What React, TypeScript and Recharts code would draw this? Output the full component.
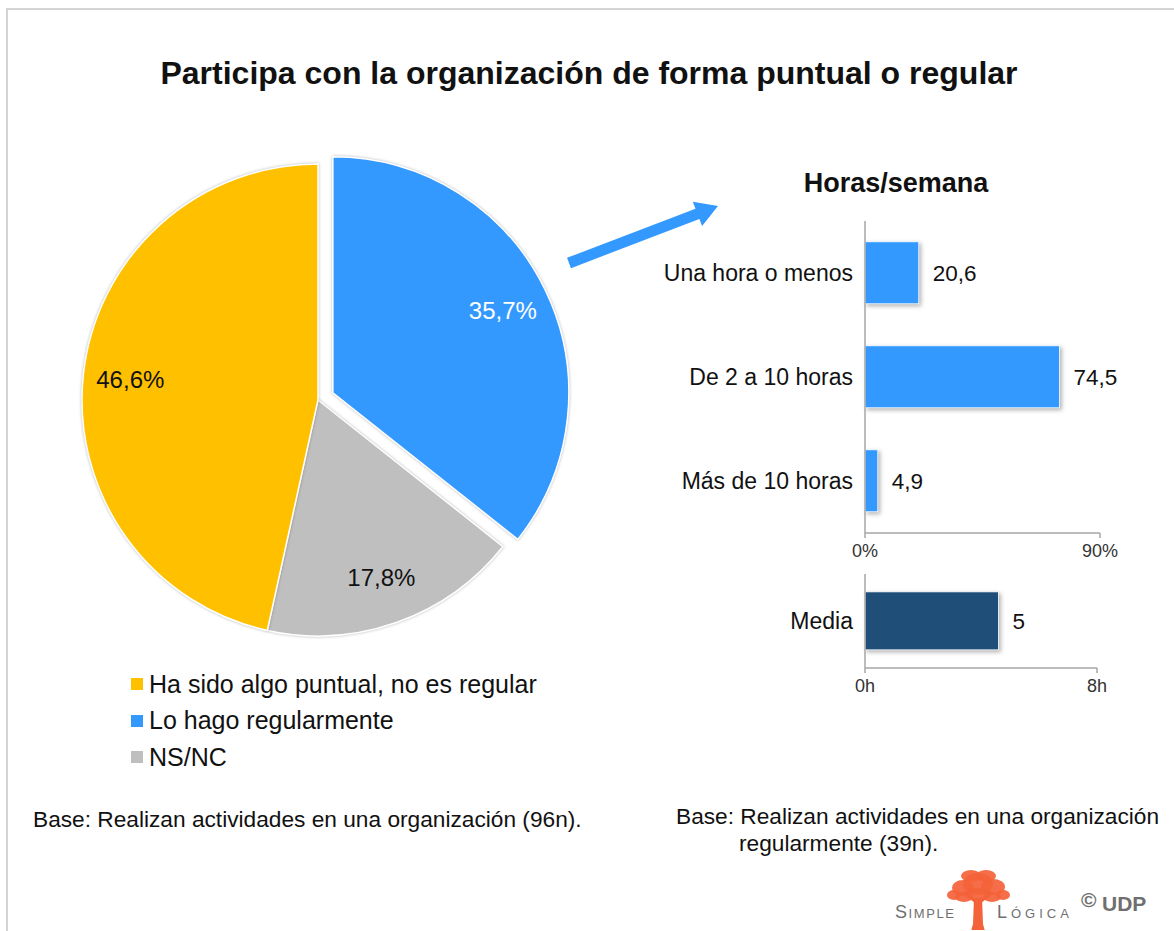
import React from 'react';
import { PieChart, Pie, Cell, BarChart, Bar, XAxis, YAxis, LabelList } from 'recharts';

// pie: order drawn clockwise from 12 o'clock
const pieNames = ['Lo hago regularmente', 'NS/NC', 'Ha sido algo puntual, no es regular'];
const pieValues = [35.7, 17.8, 46.6];
const pieColors = ['#3399ff', '#bfbfbf', '#ffc000'];
const legendOrder = [2, 0, 1];

// horas / semana
const hourCategories = ['Una hora o menos', 'De 2 a 10 horas', 'Más de 10 horas'];
const hourValues = [20.6, 74.5, 4.9];
const hourTicks = [0, 90];

// media (label shown rounded)
const meanCategories = ['Media'];
const meanValues = [4.6];
const meanTicks = [0, 8];

const FONT = "'Liberation Sans', Arial, sans-serif";
const AXIS = '#a6a6a6';
const RAD = Math.PI / 180;

const fmt1 = (v: any) => Number(v).toFixed(1).replace('.', ',');
const fmt0 = (v: any) => String(Math.round(Number(v)));

const pieData = pieNames.map((name, i) => ({ name, value: pieValues[i] }));
const hourData = hourCategories.map((name, i) => ({ name, value: hourValues[i] }));
const meanData = meanCategories.map((name, i) => ({ name, value: meanValues[i] }));

// exploded slice = first one (blue)
const pieTotal = pieValues.reduce((a, b) => a + b, 0);
const explodeMid = 90 - (360 * pieValues[0]) / pieTotal / 2;
const EXPLODE = 16.5;
const PIE_CX = 300;
const PIE_CY = 280;
const PIE_R = 236;

const makeLabel = (show: (i: number) => boolean) => (p: any) => {
  if (!show(p.index)) return null;
  const r = p.outerRadius * 0.8;
  const x = p.cx + r * Math.cos(-p.midAngle * RAD);
  const y = p.cy + r * Math.sin(-p.midAngle * RAD);
  return (
    <text x={x} y={y} textAnchor="middle" dominantBaseline="central" fontSize={24}
      fill={p.index === 0 ? '#fff' : '#111'} fontFamily={FONT}>
      {fmt1(p.value)}%
    </text>
  );
};

const ShadowBar = (props: any) => {
  const { x, y, width, height, fill } = props;
  if (!width || width <= 0) return null;
  return (
    <rect x={x} y={y} width={width} height={height} fill={fill}
      stroke="#ffffff" strokeWidth={0.8}
      style={{ filter: 'drop-shadow(2px 2px 2px rgba(0,0,0,0.3))' }} />
  );
};

function Arrow() {
  // decorative pointer from the exploded slice to the bar panel
  const tail = [569, 263];
  const tip = [718, 206];
  const dx = tip[0] - tail[0];
  const dy = tip[1] - tail[1];
  const len = Math.hypot(dx, dy);
  const ux = dx / len, uy = dy / len;
  const nx = -uy, ny = ux;
  const w = 5.5, hw = 13, hl = 22;
  const bx = tip[0] - ux * hl, by = tip[1] - uy * hl;
  const pts = [
    [tail[0] + nx * w, tail[1] + ny * w],
    [bx + nx * w, by + ny * w],
    [bx + nx * hw, by + ny * hw],
    tip,
    [bx - nx * hw, by - ny * hw],
    [bx - nx * w, by - ny * w],
    [tail[0] - nx * w, tail[1] - ny * w],
  ].map(p => p.join(',')).join(' ');
  return (
    <svg width={1174} height={931} style={{ position: 'absolute', left: 0, top: 0, pointerEvents: 'none' }}>
      <polygon points={pts} fill="#3399ff" />
    </svg>
  );
}

function Logo() {
  const blobs = [
    [0, 0, 15, 11], [-15, 4, 11, 8], [15, 3, 12, 8], [-24, 11, 7, 5], [25, 11, 7, 5],
    [-7, -8, 10, 6], [8, -8, 10, 6], [0, 10, 13, 6], [-14, 13, 9, 5], [14, 13, 9, 5],
  ];
  const txt = { fill: '#6f6f6f', fontFamily: FONT } as const;
  return (
    <svg width={290} height={70} style={{ position: 'absolute', left: 880, top: 860 }}>
      <g transform="translate(98,24)" fill="#f4623a">
        {blobs.map((b, i) => <ellipse key={i} cx={b[0]} cy={b[1]} rx={b[2]} ry={b[3]} opacity={0.92} />)}
        <path d="M-4,14 L-5,40 L-10,58 L10,58 L5,40 L4,14 Z" />
        <path d="M-2,18 L-14,8 M2,18 L14,8" stroke="#f4623a" strokeWidth={3} />
      </g>
      <text x={15} y={58} fontSize={18} letterSpacing={1.6} style={{ fontVariant: 'small-caps' }} {...txt}>Simple</text>
      <text x={117} y={58} fontSize={18} letterSpacing={4} style={{ fontVariant: 'small-caps' }} {...txt}>Lógica</text>
      <text x={201} y={47} fontSize={21} fontWeight="bold" {...txt}>©</text>
      <text x={222} y={51} fontSize={21} fontWeight="bold" {...txt}>UDP</text>
    </svg>
  );
}

export default function App() {
  const dx = EXPLODE * Math.cos(explodeMid * RAD);
  const dy = -EXPLODE * Math.sin(explodeMid * RAD);
  return (
    <div style={{ position: 'absolute', left: 0, top: 0, width: 1174, height: 931, background: '#fff', fontFamily: FONT, overflow: 'hidden', color: '#111' }}>
      <style>{`.recharts-pie-sector path { filter: drop-shadow(0 0 1.5px rgba(0,0,0,0.28)); }`}</style>
      <div style={{ position: 'absolute', left: 6, top: 8, width: 1300, height: 1000, borderLeft: '2px solid #d4d4d4', borderTop: '2px solid #d4d4d4' }} />

      <div style={{ position: 'absolute', left: 0, width: 1178, top: 53, textAlign: 'center', fontSize: 32, fontWeight: 'bold', lineHeight: '40px' }}>
        Participa con la organización de forma puntual o regular
      </div>

      <div style={{ position: 'absolute', left: 18, top: 120 }}>
        <PieChart width={600} height={560} margin={{ top: 0, right: 0, bottom: 0, left: 0 }}>
          <Pie data={pieData} dataKey="value" nameKey="name" cx={PIE_CX} cy={PIE_CY} outerRadius={PIE_R}
            startAngle={90} endAngle={-270} labelLine={false} label={makeLabel(i => i !== 0)} isAnimationActive={false}>
            {pieData.map((d, i) => (
              <Cell key={d.name} fill={i === 0 ? 'none' : pieColors[i]} stroke={i === 0 ? 'none' : '#fff'} strokeWidth={1.5} />
            ))}
          </Pie>
          <Pie data={pieData} dataKey="value" nameKey="name" cx={PIE_CX + dx} cy={PIE_CY + dy} outerRadius={PIE_R}
            startAngle={90} endAngle={-270} labelLine={false} label={makeLabel(i => i === 0)} isAnimationActive={false}>
            {pieData.map((d, i) => (
              <Cell key={d.name} fill={i === 0 ? pieColors[i] : 'none'} stroke={i === 0 ? '#fff' : 'none'} strokeWidth={1.5} />
            ))}
          </Pie>
        </PieChart>
      </div>

      <div style={{ position: 'absolute', left: 131, top: 666 }}>
        {legendOrder.map(i => (
          <div key={pieNames[i]} style={{ display: 'flex', alignItems: 'center', height: 36.5, fontSize: 25 }}>
            <span style={{ width: 12, height: 12, background: pieColors[i], marginRight: 6, flex: 'none' }} />
            <span>{pieNames[i]}</span>
          </div>
        ))}
      </div>

      <div style={{ position: 'absolute', left: 33, top: 806, fontSize: 22.7, lineHeight: '26px', whiteSpace: 'nowrap' }}>
        Base: Realizan actividades en una organización (96n).
      </div>

      <Arrow />

      <div style={{ position: 'absolute', left: 796, width: 200, top: 167, textAlign: 'center', fontSize: 27, fontWeight: 'bold', lineHeight: '32px' }}>
        Horas/semana
      </div>

      <div style={{ position: 'absolute', left: 640, top: 210 }}>
        <BarChart width={500} height={360} layout="vertical" data={hourData}
          margin={{ top: 11, right: 40, bottom: 0, left: 0 }} barCategoryGap="20%">
          <XAxis type="number" domain={[0, 90]} ticks={hourTicks} interval={0} tickFormatter={v => `${v}%`}
            height={37} axisLine={{ stroke: AXIS, strokeWidth: 1.5 }} tickLine={{ stroke: AXIS, strokeWidth: 1.5 }}
            tickSize={5} tickMargin={6} tick={{ fontSize: 18, fill: '#333' }} />
          <YAxis type="category" dataKey="name" width={225} axisLine={{ stroke: AXIS, strokeWidth: 1.5 }}
            tickLine={false} tickSize={0} tickMargin={12} tick={{ fontSize: 23, fill: '#111' }} />
          <Bar dataKey="value" fill="#3399ff" isAnimationActive={false} shape={ShadowBar}>
            <LabelList dataKey="value" position="right" offset={14} formatter={fmt1} fontSize={22.5} fill="#111" />
          </Bar>
        </BarChart>
      </div>

      <div style={{ position: 'absolute', left: 640, top: 560 }}>
        <BarChart width={500} height={145} layout="vertical" data={meanData}
          margin={{ top: 14, right: 43, bottom: 0, left: 0 }} barCategoryGap="19%">
          <XAxis type="number" domain={[0, 8]} ticks={meanTicks} interval={0} tickFormatter={v => `${v}h`}
            height={37} axisLine={{ stroke: AXIS, strokeWidth: 1.5 }} tickLine={{ stroke: AXIS, strokeWidth: 1.5 }}
            tickSize={5} tickMargin={6} tick={{ fontSize: 18, fill: '#333' }} />
          <YAxis type="category" dataKey="name" width={225} axisLine={{ stroke: AXIS, strokeWidth: 1.5 }}
            tickLine={false} tickSize={0} tickMargin={12} tick={{ fontSize: 23, fill: '#111' }} />
          <Bar dataKey="value" fill="#1f4e79" isAnimationActive={false} shape={ShadowBar}>
            <LabelList dataKey="value" position="right" offset={14} formatter={fmt0} fontSize={22.5} fill="#111" />
          </Bar>
        </BarChart>
      </div>

      <div style={{ position: 'absolute', left: 676, top: 803, fontSize: 22.7, lineHeight: '27px', whiteSpace: 'nowrap' }}>
        <div>Base: Realizan actividades en una organización</div>
        <div style={{ paddingLeft: 63 }}>regularmente (39n).</div>
      </div>

      <Logo />
    </div>
  );
}
